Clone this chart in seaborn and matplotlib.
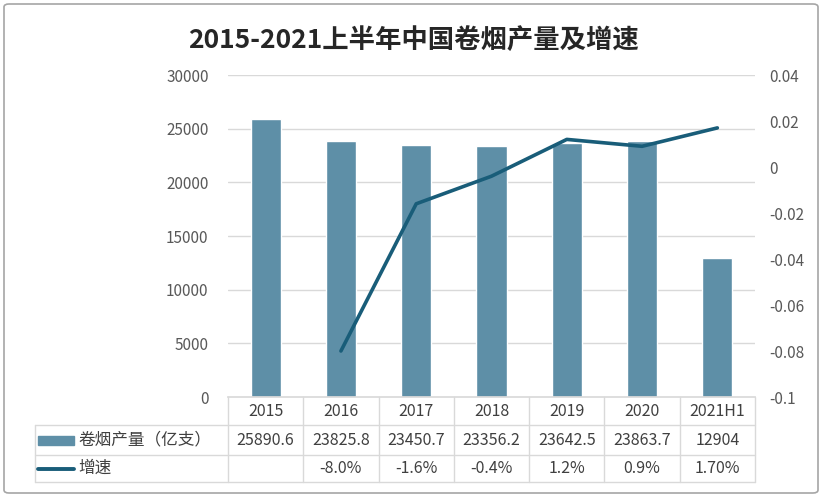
import matplotlib
matplotlib.use("Agg")
import matplotlib.pyplot as plt
import seaborn as sns
import pandas as pd
from matplotlib.patches import Rectangle, FancyBboxPatch
from matplotlib.lines import Line2D

categories = ["2015", "2016", "2017", "2018", "2019", "2020", "2021H1"]
output_vals = [25890.6, 23825.8, 23450.7, 23356.2, 23642.5, 23863.7, 12904]
output_labels = ["25890.6", "23825.8", "23450.7", "23356.2", "23642.5", "23863.7", "12904"]
growth_cats = ["2016", "2017", "2018", "2019", "2020", "2021H1"]
growth_vals = [-0.080, -0.016, -0.004, 0.012, 0.009, 0.017]
growth_labels = ["", "-8.0%", "-1.6%", "-0.4%", "1.2%", "0.9%", "1.70%"]
left_ticks = [0, 5000, 10000, 15000, 20000, 25000, 30000]
right_ticks = [-0.1, -0.08, -0.06, -0.04, -0.02, 0, 0.02, 0.04]
right_tick_labels = ["-0.1", "-0.08", "-0.06", "-0.04", "-0.02", "0", "0.02", "0.04"]

sns.set_theme(style="white")
plt.rcParams['font.family'] = ['Noto Sans CJK SC', 'DejaVu Sans']

BAR = "#5E8FA7"
LINE = "#195D79"
TXT = "#404040"
TICK = "#595959"
GRID = "#D9D9D9"

W, H = 826, 498
fig = plt.figure(figsize=(W / 100, H / 100), dpi=100)
L, R, T, B = 228, 755, 75, 397
ax = fig.add_axes([L / W, 1 - B / H, (R - L) / W, (B - T) / H])

df = pd.DataFrame({"year": categories, "value": output_vals})
sns.barplot(data=df, x="year", y="value", color=BAR, width=0.4, ax=ax,
            saturation=1, zorder=2)
ax.set_ylim(0, 30000)
ax.set_xlim(-0.5, len(categories) - 0.5)
ax.set_yticks(left_ticks)
ax.set_yticklabels([str(t) for t in left_ticks], color=TICK, fontsize=11)
ax.tick_params(axis="y", length=0, pad=14)
ax.set_xticks([])
ax.set_xlabel("")
ax.set_ylabel("")
for t in left_ticks[1:]:
    ax.axhline(t, color=GRID, lw=1, zorder=0)
for s in ["top", "right", "left"]:
    ax.spines[s].set_visible(False)
ax.spines["bottom"].set_color(GRID)

ax2 = ax.twinx()
gdf = pd.DataFrame({"x": [categories.index(c) for c in growth_cats], "g": growth_vals})
sns.lineplot(data=gdf, x="x", y="g", color=LINE, lw=2.6, ax=ax2, zorder=3)
ax2.set_ylim(-0.1, 0.04)
ax2.set_xlim(-0.5, len(categories) - 0.5)
ax2.set_yticks(right_ticks)
ax2.set_yticklabels(right_tick_labels, color=TICK, fontsize=11)
ax2.tick_params(axis="y", length=0, pad=10)
ax2.set_ylabel("")
ax2.set_xlabel("")
for s in ["top", "right", "left", "bottom"]:
    ax2.spines[s].set_visible(False)

# Data table
def fx(px):
    return px / W
def fy(py):
    return 1 - py / H

y_hdr_top, y_r1, y_r2, y_r3 = 397, 425, 455, 482
x_tab_left = 35
colw = (R - L) / len(categories)
line_kw = dict(color=GRID, lw=1, transform=fig.transFigure)
fig.add_artist(Line2D([fx(x_tab_left), fx(R)], [fy(y_r1)] * 2, **line_kw))
fig.add_artist(Line2D([fx(x_tab_left), fx(R)], [fy(y_r2)] * 2, **line_kw))
fig.add_artist(Line2D([fx(x_tab_left), fx(R)], [fy(y_r3)] * 2, **line_kw))
for i in range(len(categories) + 1):
    x = L + i * colw
    fig.add_artist(Line2D([fx(x)] * 2, [fy(y_hdr_top), fy(y_r3)], **line_kw))
fig.add_artist(Line2D([fx(x_tab_left)] * 2, [fy(y_r1), fy(y_r3)], **line_kw))

for i, c in enumerate(categories):
    cx = L + (i + 0.5) * colw
    fig.text(fx(cx), fy((y_hdr_top + y_r1) / 2), c, ha="center", va="center",
             fontsize=11.5, color=TXT)
    fig.text(fx(cx), fy((y_r1 + y_r2) / 2), output_labels[i], ha="center",
             va="center", fontsize=11.5, color=TXT)
    fig.text(fx(cx), fy((y_r2 + y_r3) / 2), growth_labels[i], ha="center",
             va="center", fontsize=11.5, color=TXT)

fig.add_artist(Rectangle((fx(38), fy(445)), fx(74) - fx(38), fy(436) - fy(445),
                         transform=fig.transFigure, color=BAR))
fig.add_artist(Line2D([fx(38), fx(74)], [fy(469)] * 2, color=LINE, lw=2.8,
                      transform=fig.transFigure))
fig.text(fx(78), fy((y_r1 + y_r2) / 2), "卷烟产量（亿支）", ha="left", va="center",
         fontsize=12, color=TXT)
fig.text(fx(78), fy((y_r2 + y_r3) / 2), "增速", ha="left", va="center",
         fontsize=12, color=TXT)

fig.text(0.5, fy(40), "2015-2021上半年中国卷烟产量及增速", ha="center", va="center",
         fontsize=19, fontweight="bold", color="#262626")

fig.add_artist(FancyBboxPatch((fx(4), fy(493)), fx(818) - fx(4), fy(4) - fy(493),
                              boxstyle="round,pad=0,rounding_size=0.006",
                              transform=fig.transFigure, fill=False,
                              edgecolor="#A6A6A6", lw=1.2))

fig.savefig("out.png", dpi=100)
